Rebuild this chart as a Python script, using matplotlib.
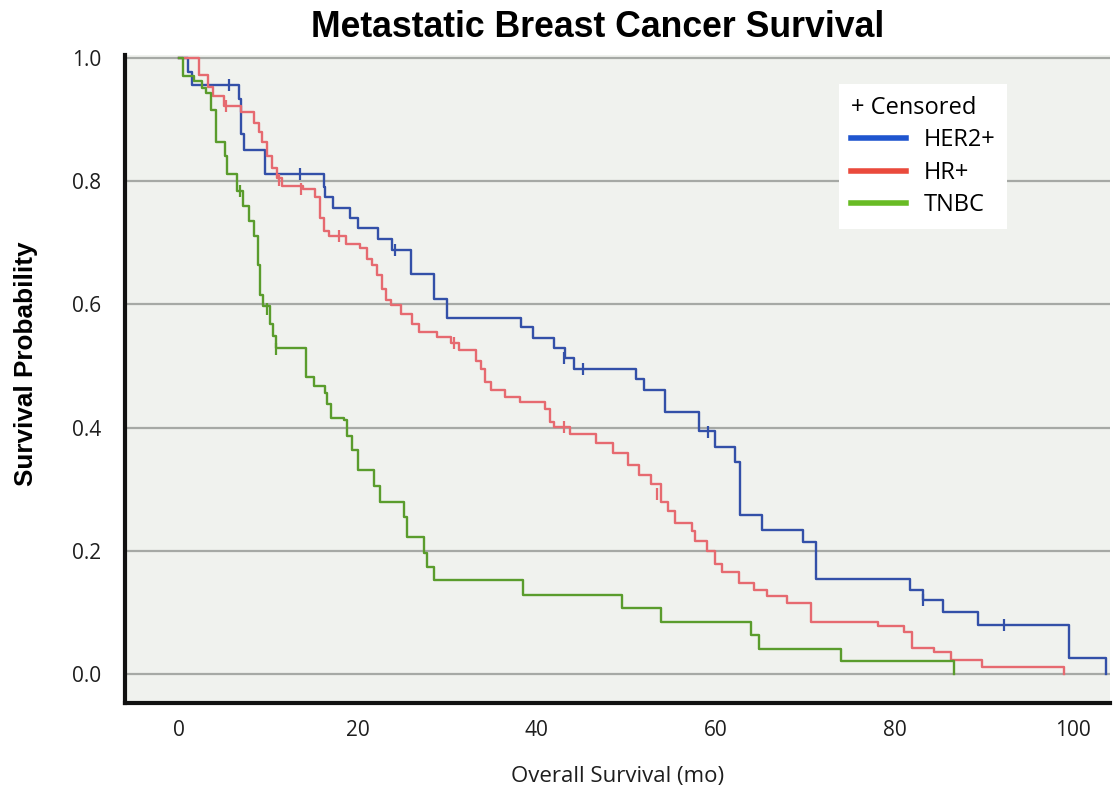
import matplotlib.pyplot as plt
from matplotlib.lines import Line2D

# Kaplan-Meier steps (time in months, survival after the step)
her2_t = [0, 0.95, 1.48, 6.67, 6.98, 7.30, 9.63, 16.19, 16.30, 17.25, 19.15, 20.0,
          22.21, 23.87, 25.97, 28.51, 29.94, 38.23, 39.56, 41.95, 43.14, 44.22,
          51.14, 52.0, 54.38, 58.16, 59.89, 62.15, 62.71, 65.20, 69.72, 71.19,
          81.73, 83.21, 85.43, 89.38, 99.51, 103.7]
her2_s = [1.0, 0.977, 0.957, 0.934, 0.876, 0.850, 0.812, 0.790, 0.774, 0.757, 0.740, 0.724,
          0.706, 0.688, 0.650, 0.609, 0.578, 0.564, 0.545, 0.530, 0.513, 0.496,
          0.479, 0.461, 0.425, 0.395, 0.368, 0.345, 0.259, 0.234, 0.214, 0.155,
          0.136, 0.120, 0.100, 0.079, 0.026, 0.0]
her2_cens_t = [5.6, 13.5, 24.1, 43.0, 45.2, 59.2, 83.2, 92.3]
her2_cens_s = [0.957, 0.812, 0.688, 0.513, 0.496, 0.393, 0.120, 0.079]

hr_t = [0, 2.22, 3.28, 3.81, 5.08, 6.98, 8.36, 8.89, 9.31, 9.84, 10.37, 11.01, 11.53,
        13.86, 15.24, 15.77, 16.19, 16.72, 18.62, 20.22, 20.99, 21.55, 22.10, 22.65,
        23.20, 23.76, 24.86, 26.08, 26.85, 28.84, 30.39, 31.27, 33.26, 33.81, 34.25,
        34.92, 36.46, 38.12, 40.97, 41.51, 41.95, 43.68, 46.59, 48.54, 50.16, 51.46,
        52.76, 53.95, 54.70, 55.46, 57.41, 57.73, 59.03, 59.89, 60.68, 62.60, 64.29,
        65.76, 68.02, 70.62, 78.19, 81.11, 81.98, 84.44, 86.30, 89.75, 99.0]
hr_s = [1.0, 0.973, 0.953, 0.938, 0.922, 0.913, 0.895, 0.880, 0.864, 0.841, 0.821, 0.806, 0.793,
        0.788, 0.774, 0.740, 0.719, 0.711, 0.699, 0.691, 0.674, 0.664, 0.648, 0.625,
        0.608, 0.599, 0.584, 0.569, 0.556, 0.547, 0.537, 0.526, 0.508, 0.496, 0.474,
        0.461, 0.450, 0.442, 0.431, 0.409, 0.401, 0.389, 0.375, 0.359, 0.339, 0.323,
        0.309, 0.279, 0.264, 0.246, 0.232, 0.216, 0.199, 0.178, 0.166, 0.148, 0.136,
        0.127, 0.115, 0.085, 0.078, 0.069, 0.043, 0.036, 0.022, 0.011, 0.0]
hr_cens_t = [5.2, 11.2, 13.65, 17.9, 30.7, 43.1, 53.4]
hr_cens_s = [0.922, 0.802, 0.788, 0.711, 0.537, 0.401, 0.292]

tnbc_t = [0, 0.42, 1.69, 2.54, 3.07, 3.60, 4.13, 5.19, 5.40, 6.46, 7.20, 7.83, 8.36, 8.78,
          9.10, 9.42, 10.16, 10.48, 10.90, 14.18, 15.13, 16.30, 16.51, 17.04, 18.41,
          18.84, 19.37, 20.0, 21.77, 22.43, 25.19, 25.52, 27.40, 27.74, 28.51, 38.45,
          49.51, 53.95, 63.95, 64.86, 74.01, 86.67]
tnbc_s = [1.0, 0.971, 0.963, 0.951, 0.944, 0.915, 0.864, 0.841, 0.812, 0.785, 0.760, 0.735, 0.711, 0.664,
          0.615, 0.598, 0.569, 0.549, 0.530, 0.483, 0.467, 0.457, 0.438, 0.416, 0.413,
          0.386, 0.363, 0.332, 0.305, 0.279, 0.255, 0.223, 0.197, 0.173, 0.152, 0.129,
          0.108, 0.085, 0.064, 0.041, 0.021, 0.0]
tnbc_cens_t = [6.77, 9.84, 10.9]
tnbc_cens_s = [0.785, 0.593, 0.527]

x_ticks = [0, 20, 40, 60, 80, 100]
y_ticks = [0.0, 0.2, 0.4, 0.6, 0.8, 1.0]

fig = plt.figure(figsize=(11.13, 7.86), dpi=100)
ax = fig.add_axes([0.1123, 0.1056, 0.885, 0.8244])
ax.set_facecolor("#f0f2ee")

for yv in y_ticks:
    ax.axhline(yv, color="#a6a9a5", lw=1.6, zorder=1)

series = [
    (her2_t, her2_s, her2_cens_t, her2_cens_s, "#3350a8"),
    (hr_t, hr_s, hr_cens_t, hr_cens_s, "#e66a70"),
    (tnbc_t, tnbc_s, tnbc_cens_t, tnbc_cens_s, "#5a9c2c"),
]
for t, s, ct, cs, col in series:
    ax.step(t, s, where="post", color=col, lw=1.7, zorder=3)
    ax.plot(ct, cs, ls="none", marker="|", ms=9, mew=1.6, color=col, zorder=4)

ax.set_xlim(-6.04, 104.1)
ax.set_ylim(-0.047, 1.005)
ax.set_xticks(x_ticks)
ax.set_yticks(y_ticks)
ax.set_yticklabels(["%.1f" % v for v in y_ticks])
ax.tick_params(length=0, labelsize=15, pad=12)
ax.tick_params(axis="y", pad=17)
for lab in ax.get_xticklabels() + ax.get_yticklabels():
    lab.set_fontfamily("Open Sans")
    lab.set_color("#1e1e1e")

for side in ["top", "right"]:
    ax.spines[side].set_visible(False)
for side in ["left", "bottom"]:
    ax.spines[side].set_linewidth(3)
    ax.spines[side].set_color("#111111")

ax.set_xlabel("Overall Survival (mo)", fontfamily="Open Sans", fontsize=16,
              color="#1e1e1e", labelpad=18)
fig.text(0.0235, 0.537, "Survival Probability", rotation=90, ha="center", va="center",
         fontsize=18.8, fontweight="bold", fontfamily="Liberation Sans")
fig.text(0.537, 0.965, "Metastatic Breast Cancer Survival", ha="center", va="center",
         fontsize=25.7, fontweight="bold", fontfamily="Liberation Sans")

handles = [Line2D([], [], color="#1f55cf", lw=4),
           Line2D([], [], color="#ea4a3c", lw=4),
           Line2D([], [], color="#68bb24", lw=4)]
leg = ax.legend(handles, ["HER2+", "HR+", "TNBC"], title="+ Censored",
                alignment="left", loc="upper left", bbox_to_anchor=(0.725, 0.955),
                borderaxespad=0, frameon=True, fancybox=False, framealpha=1,
                handlelength=2.33, handletextpad=0.76, labelspacing=0.36,
                borderpad=0.5, prop={"family": "Open Sans", "size": 17})
leg.get_frame().set_edgecolor("none")
leg.get_frame().set_facecolor("white")
leg.get_title().set_fontfamily("Open Sans")
leg.get_title().set_fontsize(17)

fig.savefig("out.png", dpi=100)
